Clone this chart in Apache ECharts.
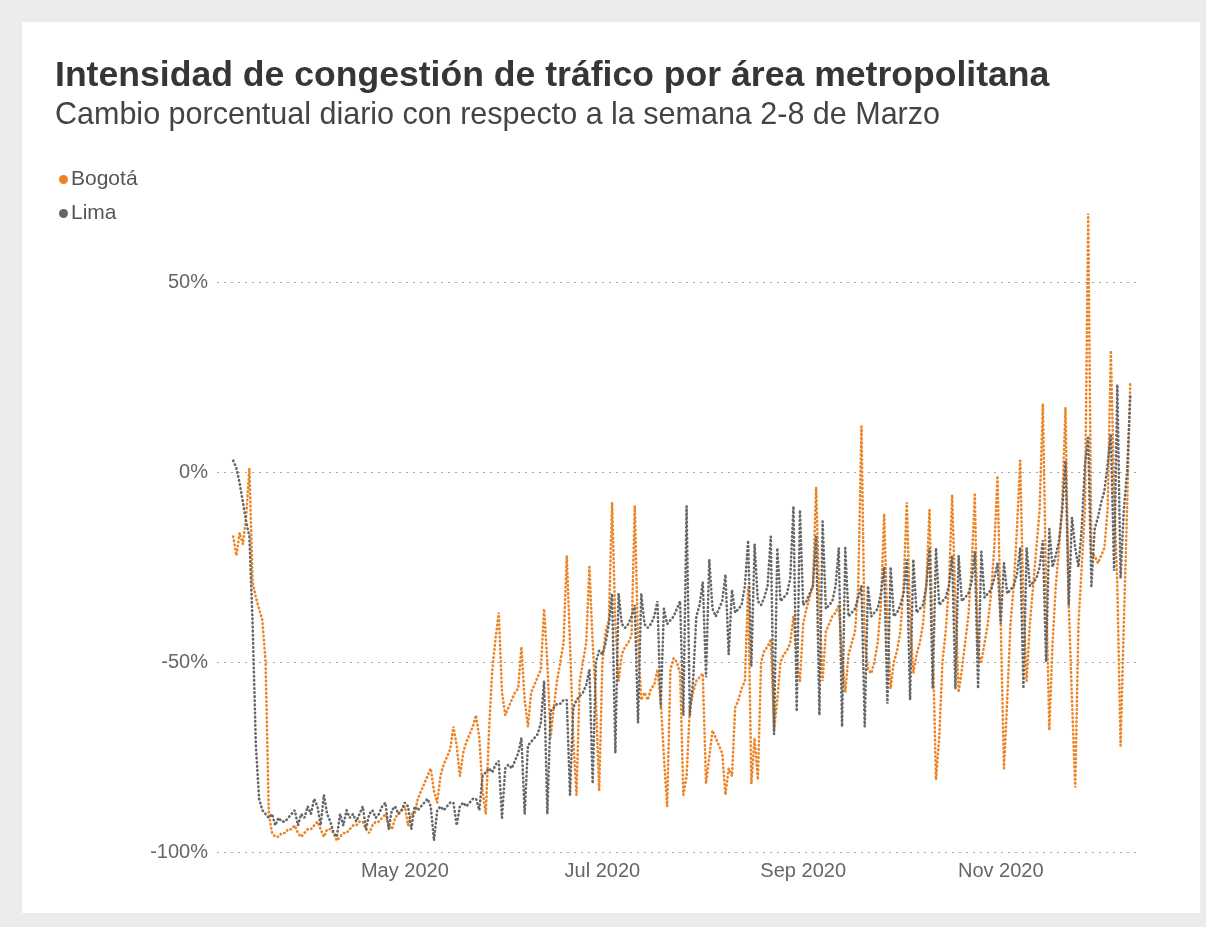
<!DOCTYPE html>
<html>
<head>
<meta charset="utf-8">
<title>Intensidad de congestión de tráfico</title>
<script src="https://cdn.jsdelivr.net/npm/echarts@6/dist/echarts.min.js"></script>
<style>
  html, body { margin: 0; padding: 0; background: #ececec; }
  .card { position: absolute; left: 22px; top: 22px; width: 1178px; height: 891px; background: #fff; }
  #chart { position: absolute; left: 0; top: 0; width: 1206px; height: 927px; }
</style>
</head>
<body>
<div class="card"></div>
<div id="chart"></div>
<script>
// axis runs 2020-03-04 .. 2020-12-14, data 2020-03-09 .. 2020-12-11 (one value per day, Mon..Sun rows)
const AXIS_START = '2020-03-04';
const AXIS_END = '2020-12-14';
const DATA_START = '2020-03-09';
const MONTH_LABELS = { '05': 'May 2020', '07': 'Jul 2020', '09': 'Sep 2020', '11': 'Nov 2020' };

const bogota = [
  -17, -22, -16, -19, -12, 1, -29,
  -33, -36, -39, -50, -90, -95, -96,
  -96, -95, -95, -94, -94, -93, -95,
  -96, -95, -94, -94, -93, -92, -94,
  -96, -94, -94, -95, -97, -96, -95,
  -95, -94, -93, -93, -92, -92, -94,
  -95, -93, -92, -92, -91, -90, -93,
  -94, -91, -90, -89, -88, -93, -90,
  -90, -86, -84, -82, -80, -78, -84,
  -87, -80, -77, -75, -73, -67, -72,
  -80, -74, -71, -69, -67, -64, -70,
  -84, -90, -68, -52, -44, -37, -58,
  -64, -62, -60, -58, -57, -46, -60,
  -67, -58, -56, -54, -52, -36, -50,
  -70, -62, -55, -50, -45, -22, -45,
  -70, -85, -55, -50, -45, -25, -45,
  -60, -84, -50, -42, -39, -8, -40,
  -55, -48, -46, -45, -43, -9, -45,
  -60, -58, -60, -57, -56, -52, -60,
  -75, -88, -52, -49, -50, -53, -85,
  -80, -62, -58, -55, -54, -53, -82,
  -75, -68, -70, -72, -74, -85, -78,
  -80, -62, -60, -57, -55, -30, -82,
  -70, -81, -50, -47, -46, -44, -68,
  -60, -50, -48, -47, -45, -38, -50,
  -55, -40, -36, -33, -30, -4, -35,
  -55, -42, -40, -38, -37, -35, -49,
  -58, -48, -45, -42, -30, 12, -45,
  -52, -53, -50, -45, -35, -11, -40,
  -57, -50, -47, -42, -30, -8, -38,
  -53, -48, -45, -40, -30, -10, -45,
  -81, -70, -50, -42, -30, -6, -35,
  -58, -52, -45, -38, -25, -6, -48,
  -50, -45, -40, -32, -20, -1, -40,
  -78, -60, -40, -30, -15, 3, -35,
  -55, -40, -30, -20, -10, 18, -30,
  -68, -45, -30, -20, -8, 17, -35,
  -60, -83, -40, -25, -10, 68, -22,
  -22, -24, -22, -20, -10, 32, -5,
  -30, -72, -40, -10, 24
];

const lima = [
  3, 1, -3, -8, -13, -17, -40,
  -72, -86, -89, -90, -91, -90, -93,
  -91, -92, -92, -91, -90, -89, -93,
  -90, -91, -88, -90, -86, -88, -93,
  -85, -90, -92, -95, -96, -90, -93,
  -89, -91, -90, -92, -90, -88, -94,
  -90, -89, -91, -90, -88, -87, -94,
  -89, -88, -90, -89, -87, -88, -94,
  -88, -89, -88, -87, -86, -88, -97,
  -89, -88, -89, -88, -87, -87, -93,
  -88, -87, -88, -87, -86, -86, -89,
  -80, -79, -78, -79, -77, -76, -91,
  -78, -77, -78, -76, -74, -70, -90,
  -72, -71, -70, -69, -66, -55, -90,
  -63, -62, -61, -61, -60, -60, -85,
  -62, -60, -59, -58, -56, -52, -82,
  -50, -47, -48, -45, -40, -32, -74,
  -32, -40, -41, -40, -38, -35, -66,
  -32, -40, -41, -40, -38, -34, -62,
  -36, -40, -39, -38, -36, -34, -64,
  -9, -64, -55, -38, -35, -29, -54,
  -23, -36, -38, -36, -34, -27, -48,
  -31, -37, -36, -35, -30, -18, -51,
  -19, -34, -35, -33, -30, -17, -69,
  -20, -34, -33, -32, -28, -9, -63,
  -10, -35, -34, -32, -30, -17, -64,
  -13, -36, -35, -34, -30, -20, -67,
  -20, -38, -37, -36, -33, -30, -67,
  -30, -38, -37, -36, -32, -25, -61,
  -25, -38, -37, -35, -32, -23, -60,
  -23, -37, -36, -35, -30, -20, -57,
  -20, -35, -34, -33, -30, -22, -57,
  -22, -34, -33, -32, -29, -21, -57,
  -21, -33, -32, -31, -28, -24, -40,
  -24, -32, -31, -30, -27, -20, -57,
  -20, -30, -29, -28, -25, -18, -50,
  -15, -25, -22, -18, -10, 3, -35,
  -12, -20, -25, -15, 2, 9, -30,
  -15, -12, -8, -5, 2, 10, -26,
  23, -28, -10, 0, 20
];

const DAY = 86400000;
const FONT = 'Liberation Sans, Arial, sans-serif';

function toDay(s) { const p = s.split('-'); return Date.UTC(+p[0], +p[1] - 1, +p[2]); }
function fmt(t) { return new Date(t).toISOString().slice(0, 10); }

const dates = [];
for (let t = toDay(AXIS_START); t <= toDay(AXIS_END); t += DAY) dates.push(fmt(t));
const offset = dates.indexOf(DATA_START);

function align(values) {
  return dates.map((d, i) => {
    const j = i - offset;
    return j >= 0 && j < values.length ? values[j] : null;
  });
}

function isMonthLabel(value) {
  return value.slice(8) === '01' && MONTH_LABELS[value.slice(5, 7)] !== undefined;
}

const chart = echarts.init(document.getElementById('chart'));
chart.setOption({
  animation: false,
  title: {
    text: 'Intensidad de congestión de tráfico por área metropolitana',
    subtext: 'Cambio porcentual diario con respecto a la semana 2-8 de Marzo',
    left: 50,
    top: 53,
    itemGap: 6,
    textStyle: { fontFamily: FONT, fontSize: 35.6, fontWeight: 'bold', color: '#363636' },
    subtextStyle: { fontFamily: FONT, fontSize: 30.5, color: '#444' }
  },
  legend: {
    orient: 'vertical',
    left: 54,
    top: 164,
    icon: 'circle',
    itemWidth: 9,
    itemHeight: 9,
    itemGap: 13,
    textStyle: { fontFamily: FONT, fontSize: 21, color: '#555', padding: [0, 0, 0, -2] },
    data: ['Bogotá', 'Lima']
  },
  grid: { left: 217, right: 66, top: 187, bottom: 75, containLabel: false },
  xAxis: {
    type: 'category',
    data: dates,
    boundaryGap: false,
    axisLine: { show: false },
    axisTick: { show: false },
    splitLine: { show: false },
    axisLabel: {
      interval: (i, value) => isMonthLabel(value),
      formatter: value => MONTH_LABELS[value.slice(5, 7)],
      fontFamily: FONT,
      fontSize: 20,
      color: '#666',
      margin: 9
    }
  },
  yAxis: {
    type: 'value',
    min: -100,
    max: 75,
    interval: 50,
    axisLine: { show: false },
    axisTick: { show: false },
    axisLabel: {
      formatter: '{value}%',
      showMaxLabel: false,
      fontFamily: FONT,
      fontSize: 20,
      color: '#666',
      margin: 9
    },
    splitLine: {
      showMaxLine: false,
      lineStyle: { color: '#a8a8a8', width: 1, type: [2, 5] }
    }
  },
  series: [
    {
      name: 'Bogotá',
      type: 'line',
      data: align(bogota),
      showSymbol: false,
      color: '#EC8425',
      lineStyle: { width: 2.6, type: [0.5, 3.6], cap: 'round', color: '#EC8425' }
    },
    {
      name: 'Lima',
      type: 'line',
      data: align(lima),
      showSymbol: false,
      color: '#666666',
      lineStyle: { width: 2.6, type: [0.5, 3.6], cap: 'round', color: '#666666' }
    }
  ]
});
</script>
</body>
</html>
